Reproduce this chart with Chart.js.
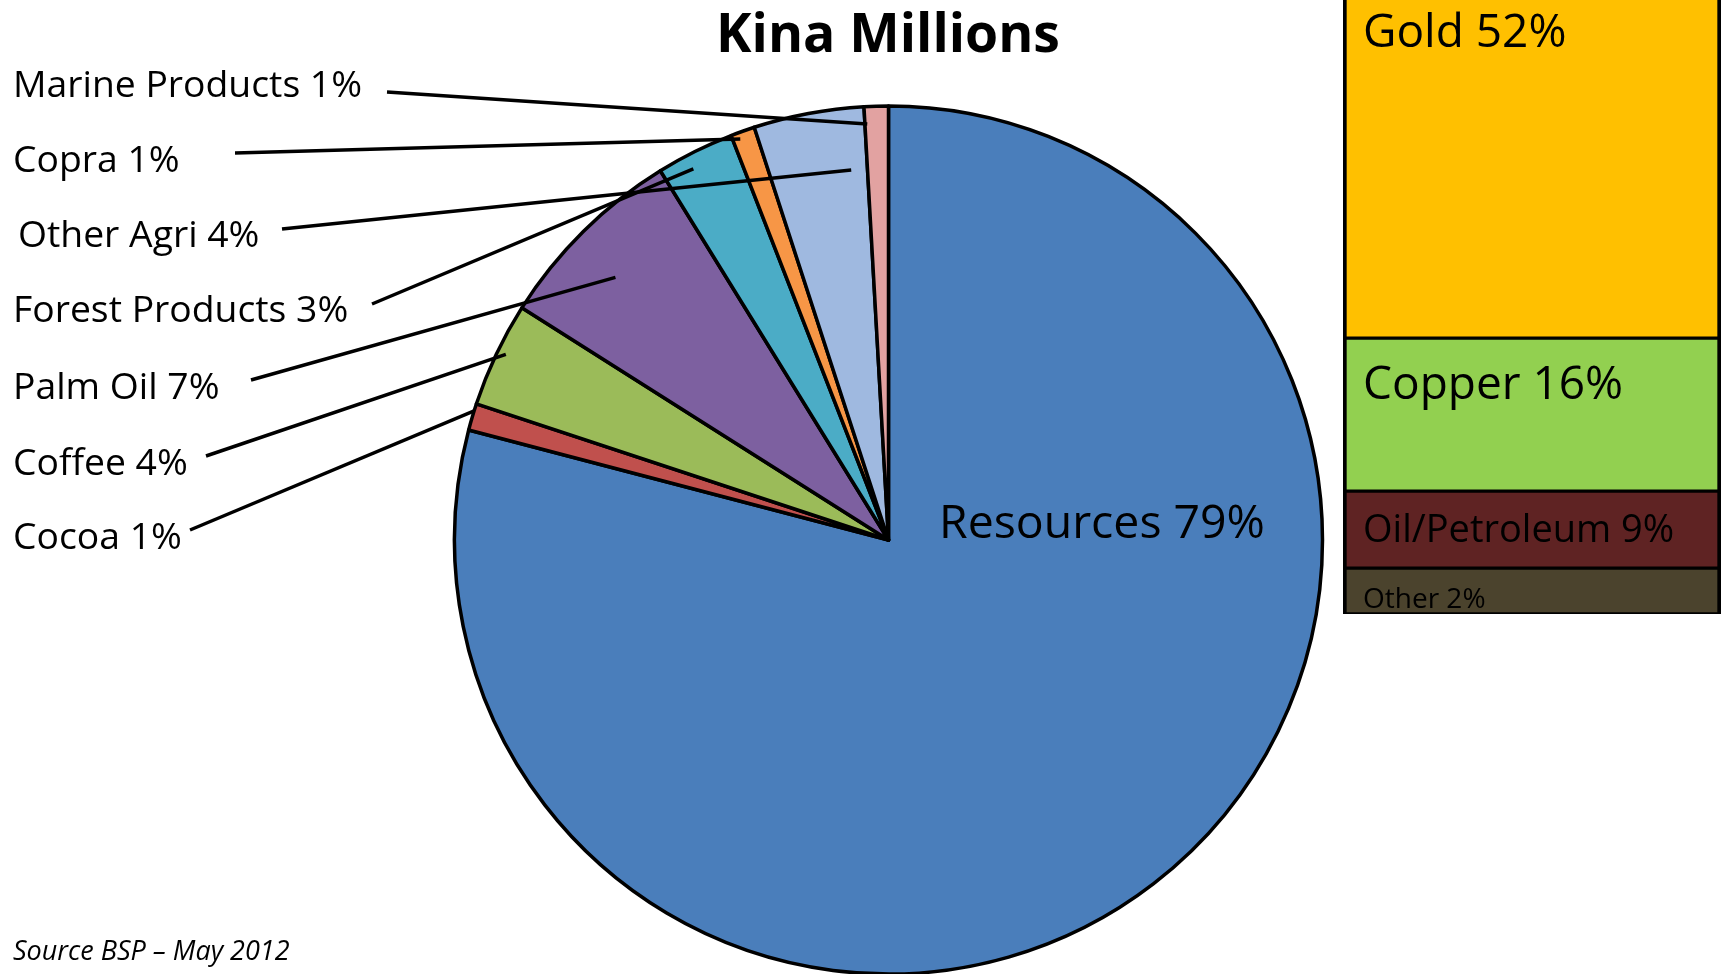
<!DOCTYPE html>
<html>
<head>
<meta charset="utf-8">
<title>Kina Millions</title>
<script src="https://cdn.jsdelivr.net/npm/chart.js@4.4.1/dist/chart.umd.min.js"></script>
<style>
  html, body { margin: 0; padding: 0; background: #fff; }
  #wrap { position: relative; width: 1727px; height: 974px; overflow: hidden; }
  #pieChart { position: absolute; left: 0; top: 0; }
  #barChart { position: absolute; left: 1343px; top: 0; }
</style>
</head>
<body>
<div id="wrap">
  <canvas id="pieChart" width="1727" height="974"></canvas>
  <canvas id="barChart" width="378" height="614"></canvas>
</div>
<script>
// export sectors, in the order the pie runs clockwise from 12 o'clock
const sectors = ['Resources', 'Cocoa', 'Coffee', 'Palm Oil', 'Forest Products', 'Copra', 'Other Agri', 'Marine Products'];
const sectorShares = [79.0, 1.0, 3.9, 7.2, 2.9, 0.9, 4.1, 0.9];   // slice sizes as drawn
const sectorPercents = [79, 1, 4, 7, 3, 1, 4, 1];                 // percentages printed on the labels
const sectorColors = ['#4a7ebb', '#c0504d', '#9bbb59', '#7d60a0', '#4bacc6', '#f79646', '#9fb9e0', '#e2a2a1'];

// breakdown of the resources slice (the bar on the right)
const resources = ['Gold', 'Copper', 'Oil/Petroleum', 'Other'];
const resourcePercents = [52, 16, 9, 2];
const resourceBarHeights = [52, 16, 8.05, 4.8];                   // segment heights as drawn
const resourceColors = ['#ffc000', '#92d050', '#5f2323', '#4b432d'];

const FONT = '"Open Sans", "Noto Sans", sans-serif';

// left hand callouts: sector index, text pos, leader start, leader tip inside the slice
const callouts = [
  { i: 7, x: 13, y: 97,  lx: 387, ly: 92,  af: 0.10, rf: 0.96 },
  { i: 5, x: 13, y: 172, lx: 235, ly: 153, af: 0.30, rf: 0.985 },
  { i: 6, x: 18, y: 247, lx: 282, ly: 229, af: 0.83, rf: 0.857 },
  { i: 4, x: 13, y: 322, lx: 372, ly: 304, af: 0.38, rf: 0.966 },
  { i: 3, x: 13, y: 399, lx: 251, ly: 380, af: 0.445, rf: 0.873 },
  { i: 2, x: 13, y: 475, lx: 206, ly: 456, af: 0.54, rf: 0.98 },
  { i: 1, x: 13, y: 549, lx: 190, ly: 530, af: 0.73, rf: 1.0 }
];

const pieExtras = {
  id: 'pieExtras',
  afterDatasetsDraw(chart) {
    const ctx = chart.ctx;
    const arcs = chart.getDatasetMeta(0).data;
    ctx.save();
    ctx.strokeStyle = '#000';
    ctx.lineWidth = 3.5;
    callouts.forEach(c => {
      const arc = arcs[c.i];
      const a = arc.startAngle + c.af * (arc.endAngle - arc.startAngle);
      const r = c.rf * arc.outerRadius;
      ctx.beginPath();
      ctx.moveTo(c.lx, c.ly);
      ctx.lineTo(arc.x + Math.cos(a) * r, arc.y + Math.sin(a) * r);
      ctx.stroke();
    });
    ctx.restore();
  },
  afterDraw(chart) {
    const ctx = chart.ctx;
    ctx.save();
    ctx.fillStyle = '#000';
    ctx.textBaseline = 'alphabetic';

    ctx.font = 'bold 53.5px ' + FONT;
    ctx.textAlign = 'center';
    ctx.fillText('Kina Millions', 888, 52);

    ctx.textAlign = 'left';
    ctx.font = '37.3px ' + FONT;
    callouts.forEach(c => {
      ctx.fillText(sectors[c.i] + ' ' + sectorPercents[c.i] + '%', c.x, c.y);
    });

    ctx.font = '46.4px ' + FONT;
    ctx.fillText(sectors[0] + ' ' + sectorPercents[0] + '%', 939, 538);

    ctx.font = 'italic 27px ' + FONT;
    ctx.fillText('Source BSP \u2013 May 2012', 13, 960);
    ctx.restore();
  }
};

new Chart(document.getElementById('pieChart'), {
  type: 'pie',
  data: {
    labels: sectors,
    datasets: [{
      data: sectorShares,
      backgroundColor: sectorColors,
      borderColor: '#000',
      borderWidth: 3.5,
      borderJoinStyle: 'round',
      hoverOffset: 0,
      radius: 434
    }]
  },
  options: {
    responsive: false,
    maintainAspectRatio: false,
    animation: false,
    radius: 434,
    layout: { padding: { left: 454, right: 404, top: 106, bottom: 0 } },
    plugins: { legend: { display: false }, tooltip: { enabled: false } }
  },
  plugins: [pieExtras]
});

// text size and drop below the segment top for each bar label
const barTextSize = [46, 46, 38, 28];
const barTextDrop = [47, 61, 51, 40];

const barText = {
  id: 'barText',
  afterDatasetsDraw(chart) {
    const ctx = chart.ctx;
    ctx.save();
    ctx.fillStyle = '#000';
    ctx.textBaseline = 'alphabetic';
    chart.data.datasets.forEach((ds, d) => {
      const bar = chart.getDatasetMeta(d).data[0];
      const k = ds.resIndex;
      const top = Math.max(bar.y, chart.chartArea.top);
      ctx.font = barTextSize[k] + 'px ' + FONT;
      ctx.fillText(resources[k] + ' ' + resourcePercents[k] + '%', bar.x - bar.width / 2 + 20, top + barTextDrop[k]);
    });
    ctx.restore();
  }
};

// stack from the bottom up: Other, Oil, Copper, Gold
const barDatasets = [];
for (let k = resources.length - 1; k >= 0; k--) {
  barDatasets.push({
    label: resources[k],
    resIndex: k,
    data: [resourceBarHeights[k]],
    backgroundColor: resourceColors[k],
    borderColor: '#000',
    borderWidth: { top: 2, bottom: 2, left: 4, right: 4 },
    borderSkipped: false,
    barPercentage: 1,
    categoryPercentage: 1
  });
}

new Chart(document.getElementById('barChart'), {
  type: 'bar',
  data: { labels: ['Resources'], datasets: barDatasets },
  options: {
    responsive: false,
    maintainAspectRatio: false,
    animation: false,
    layout: { padding: 0 },
    scales: {
      x: { stacked: true, display: false },
      y: { stacked: true, display: false, min: 0, max: 64.2 }
    },
    plugins: { legend: { display: false }, tooltip: { enabled: false } }
  },
  plugins: [barText]
});
</script>
</body>
</html>
